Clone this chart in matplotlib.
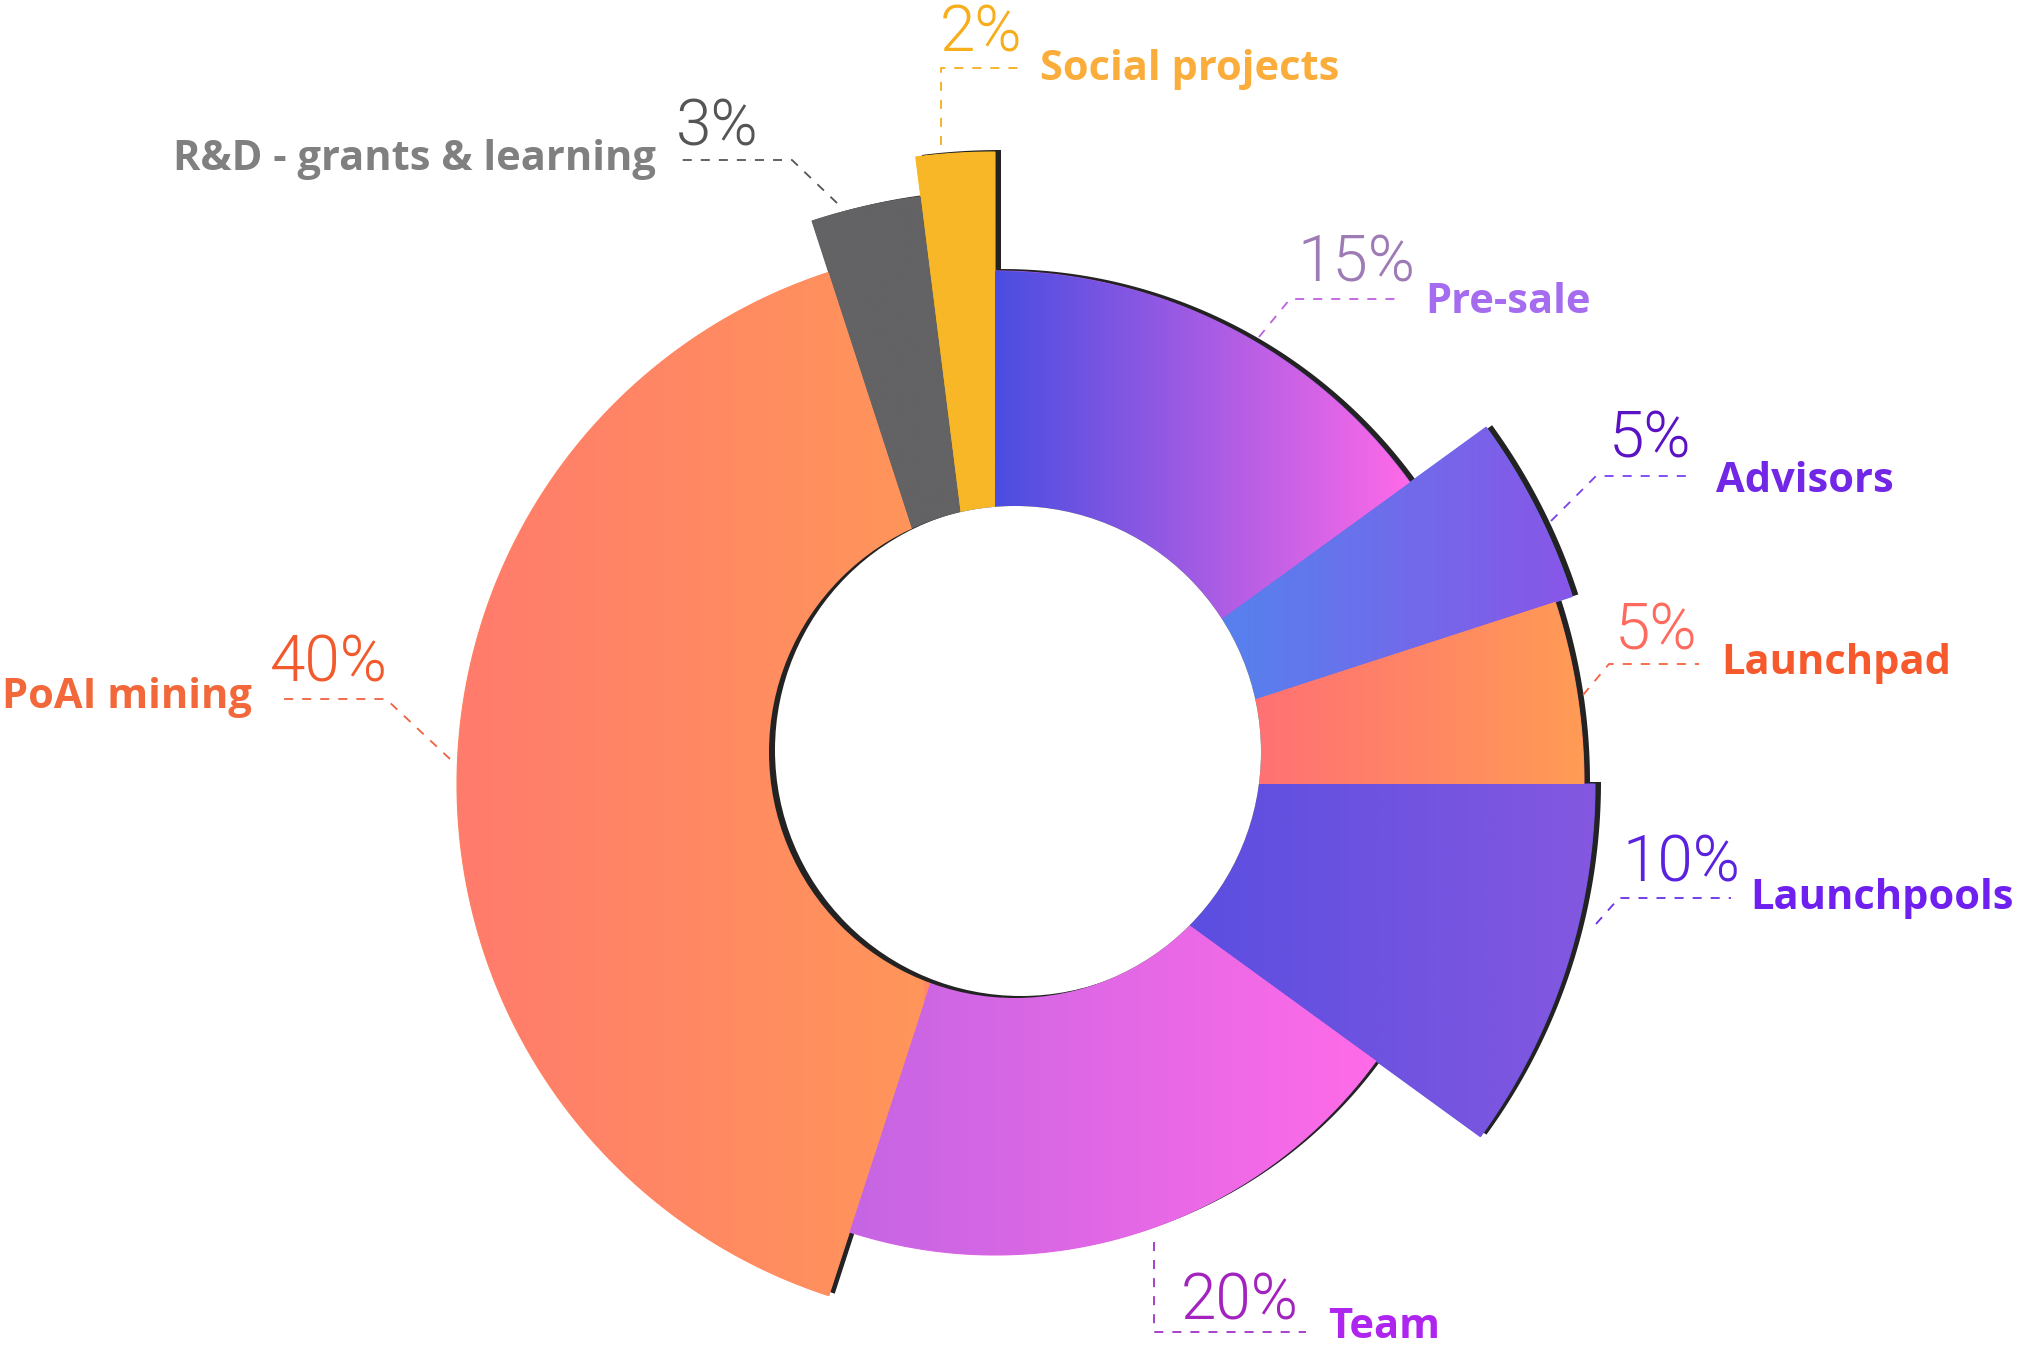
import numpy as np
import matplotlib.pyplot as plt
from matplotlib import font_manager
from matplotlib.patches import Polygon, Circle
from matplotlib.colors import LinearSegmentedColormap

# canvas in pixels, y grows downwards
W, H = 2018, 1356

categories = ["Pre-sale", "Advisors", "Launchpad", "Launchpools", "Team",
              "PoAI mining", "R&D - grants & learning", "Social projects"]
shares = [15, 5, 5, 10, 20, 40, 3, 2]

# per-slice styling
outer_radius = [513, 607, 589, 600, 471, 538, 592, 632]
grad_left = ["#4a4de0", "#5087ee", "#ff6b78", "#5a4ee0", "#c565e3", "#ff7b6c", "#636365", "#f8b727"]
grad_right = ["#ff6ae8", "#8856e8", "#ff9c55", "#8458e0", "#ff6be8", "#ff965a", "#636365", "#f8b727"]
pct_colors = ["#9e7bb5", "#5b12c5", "#ff6a5e", "#5a22de", "#a223be", "#f25a2d", "#555555", "#f7ae1d"]
label_colors = ["#a56cf0", "#7327e6", "#f65a2c", "#6f1fef", "#af25f0", "#f2683a", "#808080", "#fbad3b"]
line_colors = ["#c060e0", "#7a40f0", "#fa6040", "#6a30e8", "#a030c8", "#f06040", "#555555", "#f5ae1c"]

# text placement (pixels): percent (x, baseline), label (x, baseline, ha)
pct_pos = [(1297, 281), (1609, 457), (1615, 650), (1622, 882), (1181, 1319), (270, 682), (676, 145), (940, 51)]
label_pos = [(1425, 313, "left"), (1716, 492, "left"), (1721, 674, "left"), (1750, 909, "left"),
             (1328, 1338, "left"), (2, 708, "left"), (656, 170, "right"), (1040, 80, "left")]
leader_pts = [
    [(1259, 337), (1290, 299), (1403, 299)],
    [(1551, 521), (1596, 476), (1689, 476)],
    [(1583, 695), (1609, 664), (1699, 664)],
    [(1596, 924), (1619, 898), (1731, 898)],
    [(1154, 1242), (1154, 1332), (1306, 1332)],
    [(450, 759), (386, 699), (277, 699)],
    [(837, 203), (792, 160), (676, 160)],
    [(941, 145), (941, 68), (1023, 68)],
]

APEX = (995, 784)
HOLE_CENTER = (1015, 752)
HOLE_R = 246
INNER_R = 230
SHADOW_SHIFT = (6, -2)
SHADOW_COLOR = "#232323"


def light_font():
    # pick an installed face that really has a 300 weight
    for fam in ["Roboto", "Open Sans", "Lato", "Noto Sans", "Inter"]:
        for f in font_manager.fontManager.ttflist:
            if f.name == fam and f.weight == 300 and f.style == "normal":
                return dict(family=fam, weight=300)
    return dict(family="Lato", weight="normal")


PCT_FONT = dict(size=46, **light_font())
LABEL_FONT = dict(family="Open Sans", weight="bold", size=30)


def arc_points(cx, cy, r, t1, t2, n=240):
    t = np.radians(np.linspace(t1, t2, n))
    return np.column_stack([cx + r * np.cos(t), cy - r * np.sin(t)])


def main():
    fig = plt.figure(figsize=(W / 100, H / 100), dpi=100)
    ax = fig.add_axes([0, 0, 1, 1])
    ax.set_axis_off()

    cx, cy = APEX
    total = float(sum(shares))
    start = 90.0
    for i, share in enumerate(shares):
        t1 = start
        t2 = start - share / total * 360.0
        start = t2
        outer = arc_points(cx, cy, outer_radius[i], t1, t2)
        pts = np.vstack([[cx, cy], outer])

        # drop shadow, offset right and up
        shadow = Polygon(pts + np.array(SHADOW_SHIFT), closed=True,
                         facecolor=SHADOW_COLOR, edgecolor="none", zorder=1)
        ax.add_patch(shadow)

        mid = LinearSegmentedColormap.from_list("m", [grad_left[i], grad_right[i]])(0.5)
        base = Polygon(pts, closed=True, facecolor=mid, edgecolor=mid, lw=0.8, zorder=2)
        ax.add_patch(base)

        inner = arc_points(cx, cy, INNER_R, t1, t2)
        x0 = min(outer[:, 0].min(), inner[:, 0].min())
        x1 = max(outer[:, 0].max(), inner[:, 0].max())
        cmap = LinearSegmentedColormap.from_list("g%d" % i, [grad_left[i], grad_right[i]])
        grad = np.linspace(0, 1, 256).reshape(1, -1)
        im = ax.imshow(grad, cmap=cmap, aspect="auto", interpolation="bilinear",
                       extent=(x0, x1, pts[:, 1].max(), pts[:, 1].min()), zorder=3)
        clip = Polygon(pts, closed=True, transform=ax.transData)
        im.set_clip_path(clip)

    # hole with its inner shadow crescent
    hole = Circle(HOLE_CENTER, HOLE_R, facecolor=SHADOW_COLOR, edgecolor="none", zorder=4)
    ax.add_patch(hole)
    lit = Circle((HOLE_CENTER[0] + SHADOW_SHIFT[0], HOLE_CENTER[1] + SHADOW_SHIFT[1]), HOLE_R,
                 facecolor="white", edgecolor="none", zorder=5)
    ax.add_patch(lit)
    lit.set_clip_path(hole)

    for i, name in enumerate(categories):
        xs = [p[0] for p in leader_pts[i]]
        ys = [p[1] for p in leader_pts[i]]
        ax.plot(xs, ys, color=line_colors[i], lw=1.3, linestyle=(0, (5, 5)), zorder=6)
        px, py = pct_pos[i]
        ax.text(px, py, f"{shares[i]}%", color=pct_colors[i], ha="left", va="baseline",
                zorder=7, **PCT_FONT)
        lx, ly, ha = label_pos[i]
        ax.text(lx, ly, name, color=label_colors[i], ha=ha, va="baseline", zorder=7,
                **LABEL_FONT)

    ax.set_xlim(0, W)
    ax.set_ylim(H, 0)
    fig.savefig("out.png", dpi=100, facecolor="white")


if __name__ == "__main__":
    main()
